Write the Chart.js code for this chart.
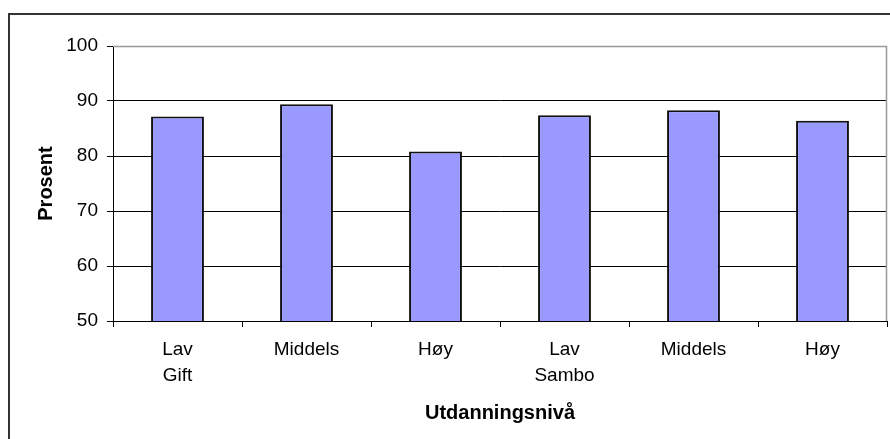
<!DOCTYPE html>
<html>
<head>
<meta charset="utf-8">
<script src="https://cdn.jsdelivr.net/npm/chart.js@4/dist/chart.umd.min.js"></script>
<style>
  html, body { margin: 0; padding: 0; background: #fff; overflow: hidden; }
  #frame { position: absolute; left: 8px; top: 13px; width: 1000px; height: 1000px; border: 2px solid #333; box-sizing: border-box; }
  #wrap { position: absolute; left: 0; top: 0; width: 890px; height: 439px; }
</style>
</head>
<body>
<div id="frame"></div>
<div id="wrap"><canvas id="chart" width="890" height="439"></canvas></div>
<script>
const categories = [['Lav', 'Gift'], 'Middels', 'Høy', ['Lav', 'Sambo'], 'Middels', 'Høy'];
const values = [87.2, 89.4, 80.8, 87.4, 88.3, 86.4];
const yTicks = [50, 60, 70, 80, 90, 100];

const FONT = "'Liberation Sans', Arial, sans-serif";

// grey border on top/right of the plot area
const plotBorder = {
  id: 'plotBorder',
  afterDraw(chart) {
    const { ctx, chartArea: a } = chart;
    ctx.save();
    ctx.strokeStyle = '#999';
    ctx.lineWidth = 1.5;
    ctx.beginPath();
    ctx.moveTo(a.left, a.top + 0.5);
    ctx.lineTo(a.right - 0.5, a.top + 0.5);
    ctx.lineTo(a.right - 0.5, a.bottom);
    ctx.stroke();
    ctx.restore();
  }
};

const ctx = document.getElementById('chart').getContext('2d');
new Chart(ctx, {
  type: 'bar',
  data: {
    labels: categories,
    datasets: [{
      data: values,
      backgroundColor: '#9999FF',
      borderColor: '#111',
      borderWidth: 2,
      categoryPercentage: 1,
      barPercentage: 0.41
    }]
  },
  options: {
    responsive: false,
    animation: false,
    layout: { padding: { top: 46, right: 3, left: 30, bottom: 0 } },
    plugins: { legend: { display: false }, tooltip: { enabled: false } },
    scales: {
      x: {
        offset: true,
        afterFit: s => { s.height = 118; },
        grid: { display: true, drawOnChartArea: false, offset: true, tickLength: 6, color: '#000' },
        border: { color: '#000', width: 1 },
        ticks: { color: '#000', padding: 10, font: { family: FONT, size: 19, lineHeight: 1.37 }, maxRotation: 0, autoSkip: false },
        title: { display: true, text: 'Utdanningsnivå', color: '#000', font: { family: FONT, size: 20, weight: 'bold' }, padding: { top: 4, bottom: 14 } }
      },
      y: {
        min: 50,
        max: 100,
        afterFit: s => { s.width = 83; },
        afterBuildTicks: s => { s.ticks = yTicks.map(v => ({ value: v })); },
        grid: { color: '#000', tickLength: 6, lineWidth: 1 },
        border: { color: '#000', width: 1 },
        ticks: { color: '#000', padding: 9, font: { family: FONT, size: 19 } },
        title: { display: true, text: 'Prosent', color: '#000', font: { family: FONT, size: 20, weight: 'bold' }, padding: { bottom: 0 } }
      }
    }
  },
  plugins: [plotBorder]
});
</script>
</body>
</html>
